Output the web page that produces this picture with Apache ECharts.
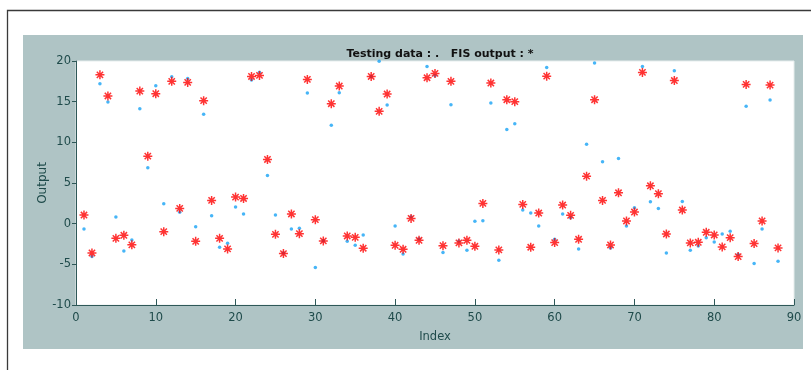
<!DOCTYPE html>
<html>
<head>
<meta charset="utf-8">
<script src="https://cdn.jsdelivr.net/npm/echarts@6/dist/echarts.min.js"></script>
<style>
  html, body { margin: 0; padding: 0; background: #fff; }
  #chart { width: 811px; height: 370px; }
</style>
</head>
<body>
<div id="chart"></div>
<script>
// Testing data (.) vs FIS output (*), index 1..88
const testingData = [
  -0.65, -4.05, 17.2, 14.96, 0.82, -3.35, -2.0, 14.14, 6.87, 16.96,
  2.45, 18.06, 1.39, 17.86, -0.37, 13.45, 0.98, -2.9, -2.41, 2.04,
  1.19, 17.65, 18.63, 5.93, 1.06, -3.6, -0.65, -0.57, 16.06, -5.39,
  -2.1, 12.1, 16.1, -2.17, -2.66, -1.39, 18.1, 19.98, 14.59, -0.29,
  -3.72, 0.86, -1.84, 19.33, 18.19, -3.56, 14.63, -2.12, -3.27, 0.29,
  0.37, 14.83, -4.5, 11.57, 12.3, 1.68, 1.31, -0.29, 19.2, -1.92,
  1.19, 0.74, -3.1, 9.77, 19.74, 7.6, -2.98, 8.0, -0.29, 1.96,
  19.33, 2.7, 1.88, -3.6, 18.8, 2.74, -3.27, -2.74, -1.72, -2.25,
  -1.27, -0.94, -3.76, 14.43, -4.9, -0.65, 15.2, -4.62
]
const fisOutput = [
  1.06, -3.6, 18.3, 15.7, -1.8, -1.43, -2.6, 16.3, 8.3, 15.98,
  -0.98, 17.5, 1.88, 17.37, -2.17, 15.12, 2.86, -1.8, -3.1, 3.27,
  3.1, 18.1, 18.23, 7.89, -1.31, -3.68, 1.19, -1.23, 17.74, 0.49,
  -2.12, 14.75, 16.92, -1.51, -1.68, -3.02, 18.1, 13.81, 15.94, -2.66,
  -3.15, 0.65, -2.04, 17.94, 18.47, -2.7, 17.5, -2.37, -2.04, -2.78,
  2.49, 17.29, -3.23, 15.24, 15.0, 2.37, -2.9, 1.31, 18.14, -2.33,
  2.29, 1.02, -1.92, 5.84, 15.24, 2.86, -2.62, 3.8, 0.33, 1.43,
  18.6, 4.66, 3.68, -1.27, 17.6, 1.68, -2.37, -2.29, -1.06, -1.39,
  -2.86, -1.72, -4.05, 17.12, -2.45, 0.33, 17.04, -2.98
]
const xTicks = [0, 10, 20, 30, 40, 50, 60, 70, 80, 90]
const yTicks = [-10, -5, 0, 5, 10, 15, 20]

const axisColor = '#2e5858'
const labelColor = '#1f4b4b'
const font = 'DejaVu Sans'

// MATLAB-style '*' marker (plus + cross)
const asterisk = 'path://M0,5L10,5M5,0L5,10M1.5,1.5L8.5,8.5M8.5,1.5L1.5,8.5'

const chart = echarts.init(document.getElementById('chart'))
chart.setOption({
  animation: false,
  textStyle: { fontFamily: font },
  graphic: [
    { type: 'rect', z: -10, shape: { x: 23, y: 35, width: 780, height: 314 }, style: { fill: '#afc4c5' } },
    { type: 'polyline', z: -5, shape: { points: [[7.5, 370], [7.5, 10.5], [811, 10.5]] },
      style: { stroke: '#3a3a3a', lineWidth: 1.3, fill: null } }
  ],
  title: {
    text: 'Testing data : .   FIS output : *',
    left: 435, top: 44, textAlign: 'center',
    textStyle: { fontFamily: font, fontSize: 11, fontWeight: 'bold', color: '#111' }
  },
  grid: {
    left: 76, right: 17, top: 61, bottom: 65,
    show: true, backgroundColor: '#fff', borderColor: '#e6eded', borderWidth: 1
  },
  xAxis: {
    type: 'value', min: xTicks[0], max: xTicks[xTicks.length - 1], interval: 10,
    name: 'Index', nameLocation: 'middle', nameGap: 26,
    nameTextStyle: { color: labelColor, fontSize: 11.5, fontFamily: font },
    axisLine: { onZero: false, lineStyle: { color: axisColor, width: 1 } },
    axisTick: { inside: true, length: 6, lineStyle: { color: axisColor } },
    axisLabel: { color: labelColor, fontSize: 11.5, margin: 7, fontFamily: font },
    splitLine: { show: false }
  },
  yAxis: {
    type: 'value', min: yTicks[0], max: yTicks[yTicks.length - 1], interval: 5,
    name: 'Output', nameLocation: 'middle', nameGap: 27, nameRotate: 90,
    nameMoveOverlap: false,
    nameTextStyle: { color: labelColor, fontSize: 12, fontFamily: font },
    axisLine: { show: true, onZero: false, lineStyle: { color: axisColor, width: 1 } },
    axisTick: { show: true, inside: false, length: 4, lineStyle: { color: axisColor } },
    axisLabel: { color: labelColor, fontSize: 11.5, margin: 5, fontFamily: font },
    splitLine: { show: false }
  },
  series: [
    {
      name: 'Testing data', type: 'scatter',
      data: testingData.map((v, i) => [i + 1, v]),
      symbol: 'circle', symbolSize: 3.5,
      itemStyle: { color: '#18a2f5' }
    },
    {
      name: 'FIS output', type: 'scatter',
      data: fisOutput.map((v, i) => [i + 1, v]),
      symbol: asterisk, symbolSize: 9,
      itemStyle: { color: 'rgba(0,0,0,0)', borderColor: '#ff0000', borderWidth: 1.5 }
    }
  ]
})
</script>
</body>
</html>
